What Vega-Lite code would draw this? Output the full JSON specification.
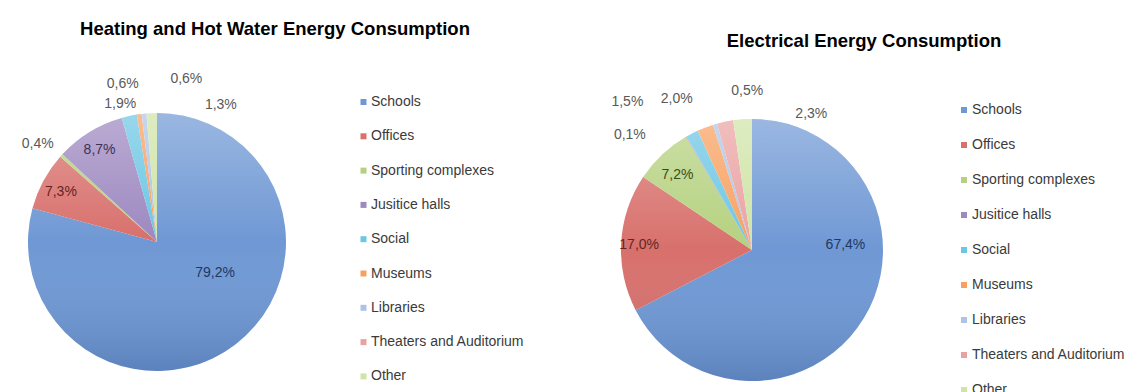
{
  "$schema": "https://vega.github.io/schema/vega-lite/v6.json",
  "background": "white",
  "padding": {"left": 0, "top": 19, "right": 0, "bottom": 0},
  "bounds": "flush",
  "spacing": 307,
  "config": {"view": {"stroke": null}, "text": {"font": "Liberation Sans", "fontSize": 14}},
  "resolve": {"scale": {"color": "independent", "theta": "independent"}, "legend": {"color": "independent"}},
  "datasets": {
    "heat": [
      {"category": "Schools", "share": 79.2, "label": "79,2%", "rank": 1},
      {"category": "Offices", "share": 7.3, "label": "7,3%", "rank": 2},
      {"category": "Sporting complexes", "share": 0.4, "label": "0,4%", "rank": 3},
      {"category": "Jusitice halls", "share": 8.7, "label": "8,7%", "rank": 4},
      {"category": "Social", "share": 1.9, "label": "1,9%", "rank": 5},
      {"category": "Museums", "share": 0.6, "label": "0,6%", "rank": 6},
      {"category": "Libraries", "share": 0.6, "label": "0,6%", "rank": 7},
      {"category": "Theaters and Auditorium", "share": 0, "label": "", "rank": 8},
      {"category": "Other", "share": 1.3, "label": "1,3%", "rank": 9}
    ],
    "elec": [
      {"category": "Schools", "share": 67.4, "label": "67,4%", "rank": 1},
      {"category": "Offices", "share": 17.0, "label": "17,0%", "rank": 2},
      {"category": "Sporting complexes", "share": 7.2, "label": "7,2%", "rank": 3},
      {"category": "Jusitice halls", "share": 0.1, "label": "0,1%", "rank": 4},
      {"category": "Social", "share": 1.5, "label": "1,5%", "rank": 5},
      {"category": "Museums", "share": 2.0, "label": "2,0%", "rank": 6},
      {"category": "Libraries", "share": 0.5, "label": "0,5%", "rank": 7},
      {"category": "Theaters and Auditorium", "share": 2.0, "label": "", "rank": 8},
      {"category": "Other", "share": 2.3, "label": "2,3%", "rank": 9}
    ]
  },
  "hconcat": [
    {
      "width": 314,
      "height": 268,
      "data": {"name": "heat"},
      "title": {"text": "Heating and Hot Water Energy Consumption", "font": "Liberation Sans", "fontSize": 18.5, "fontWeight": "bold", "color": "#000000", "anchor": "middle", "frame": "group", "dx": 118, "offset": 33},
      "layer": [
        {
          "mark": {"type": "arc", "outerRadius": 129},
          "encoding": {
            "theta": {"field": "share", "type": "quantitative", "stack": true},
            "order": {"field": "rank", "type": "quantitative"},
            "detail": {"field": "category"},
            "color": {
              "field": "category", "type": "nominal",
              "scale": {
                "domain": ["Schools", "Offices", "Sporting complexes", "Jusitice halls", "Social", "Museums", "Libraries", "Theaters and Auditorium", "Other"],
                "range": ["#6f98d4", "#d8706c", "#b5d17f", "#9d88c0", "#6cc6e4", "#f8a060", "#adc4e6", "#eaa2a1", "#cfe4a6"]
              },
              "legend": {"orient": "none", "legendX": 356.5, "legendY": -13, "title": null, "symbolType": "square", "symbolSize": 36, "symbolStrokeWidth": 0, "labelFont": "Liberation Sans", "labelFontSize": 14, "labelColor": "#3a3a3a", "rowPadding": 20.3, "labelOffset": 0.5, "padding": 0, "labelLimit": 300}
            }
          }
        },
        {
          "mark": {"type": "arc", "outerRadius": 129, "fill": {"gradient": "linear", "x1": 0, "y1": 0, "x2": 0, "y2": 1, "stops": [{"offset": 0, "color": "rgba(255,255,255,0.3)"}, {"offset": 0.5, "color": "rgba(255,255,255,0)"}, {"offset": 1, "color": "rgba(0,30,80,0.18)"}]}},
          "encoding": {"theta": {"aggregate": "sum", "field": "share", "type": "quantitative"}}
        },
        {"mark": {"type": "text", "radius": 66, "dx": 18, "dy": -21, "color": "#1f3864"}, "encoding": {"theta": {"field": "share", "type": "quantitative", "stack": true}, "order": {"field": "rank", "type": "quantitative"}, "detail": {"field": "category"}, "text": {"condition": {"test": "datum.category === 'Schools'", "field": "label"}, "value": ""}}},
        {"mark": {"type": "text", "radius": 108, "dx": -1, "dy": 1, "color": "#632523"}, "encoding": {"theta": {"field": "share", "type": "quantitative", "stack": true}, "order": {"field": "rank", "type": "quantitative"}, "detail": {"field": "category"}, "text": {"condition": {"test": "datum.category === 'Offices'", "field": "label"}, "value": ""}}},
        {"mark": {"type": "text", "radius": 154, "dx": -5, "dy": 5, "color": "#595959"}, "encoding": {"theta": {"field": "share", "type": "quantitative", "stack": true}, "order": {"field": "rank", "type": "quantitative"}, "detail": {"field": "category"}, "text": {"condition": {"test": "datum.category === 'Sporting complexes'", "field": "label"}, "value": ""}}},
        {"mark": {"type": "text", "radius": 108, "dx": -1, "dy": 0, "color": "#3f3151"}, "encoding": {"theta": {"field": "share", "type": "quantitative", "stack": true}, "order": {"field": "rank", "type": "quantitative"}, "detail": {"field": "category"}, "text": {"condition": {"test": "datum.category === 'Jusitice halls'", "field": "label"}, "value": ""}}},
        {"mark": {"type": "text", "radius": 143, "dx": -6, "dy": 2, "color": "#595959"}, "encoding": {"theta": {"field": "share", "type": "quantitative", "stack": true}, "order": {"field": "rank", "type": "quantitative"}, "detail": {"field": "category"}, "text": {"condition": {"test": "datum.category === 'Social'", "field": "label"}, "value": ""}}},
        {"mark": {"type": "text", "radius": 162, "dx": -12, "dy": 2, "color": "#595959"}, "encoding": {"theta": {"field": "share", "type": "quantitative", "stack": true}, "order": {"field": "rank", "type": "quantitative"}, "detail": {"field": "category"}, "text": {"condition": {"test": "datum.category === 'Museums'", "field": "label"}, "value": ""}}},
        {"mark": {"type": "text", "radius": 166, "dx": 46, "dy": 2, "color": "#595959"}, "encoding": {"theta": {"field": "share", "type": "quantitative", "stack": true}, "order": {"field": "rank", "type": "quantitative"}, "detail": {"field": "category"}, "text": {"condition": {"test": "datum.category === 'Libraries'", "field": "label"}, "value": ""}}},
        {"mark": {"type": "text", "radius": 151, "dx": 70, "dy": 14, "color": "#595959"}, "encoding": {"theta": {"field": "share", "type": "quantitative", "stack": true}, "order": {"field": "rank", "type": "quantitative"}, "detail": {"field": "category"}, "text": {"condition": {"test": "datum.category === 'Other'", "field": "label"}, "value": ""}}}
      ]
    },
    {
      "width": 262,
      "height": 284,
      "data": {"name": "elec"},
      "title": {"text": "Electrical Energy Consumption", "font": "Liberation Sans", "fontSize": 18.5, "fontWeight": "bold", "color": "#000000", "anchor": "middle", "frame": "group", "dx": 112, "offset": 24},
      "layer": [
        {
          "mark": {"type": "arc", "outerRadius": 131},
          "encoding": {
            "theta": {"field": "share", "type": "quantitative", "stack": true},
            "order": {"field": "rank", "type": "quantitative"},
            "detail": {"field": "category"},
            "color": {
              "field": "category", "type": "nominal",
              "scale": {
                "domain": ["Schools", "Offices", "Sporting complexes", "Jusitice halls", "Social", "Museums", "Libraries", "Theaters and Auditorium", "Other"],
                "range": ["#6f98d4", "#d8706c", "#b5d17f", "#9d88c0", "#6cc6e4", "#f8a060", "#adc4e6", "#eaa2a1", "#cfe4a6"]
              },
              "legend": {"orient": "none", "legendX": 336, "legendY": -5, "title": null, "symbolType": "square", "symbolSize": 36, "symbolStrokeWidth": 0, "labelFont": "Liberation Sans", "labelFontSize": 14, "labelColor": "#3a3a3a", "rowPadding": 21, "labelOffset": 1, "padding": 0, "labelLimit": 300}
            }
          }
        },
        {
          "mark": {"type": "arc", "outerRadius": 131, "fill": {"gradient": "linear", "x1": 0, "y1": 0, "x2": 0, "y2": 1, "stops": [{"offset": 0, "color": "rgba(255,255,255,0.3)"}, {"offset": 0.5, "color": "rgba(255,255,255,0)"}, {"offset": 1, "color": "rgba(0,30,80,0.18)"}]}},
          "encoding": {"theta": {"aggregate": "sum", "field": "share", "type": "quantitative"}}
        },
        {"mark": {"type": "text", "radius": 93, "dx": 14, "dy": -53, "color": "#1f3864"}, "encoding": {"theta": {"field": "share", "type": "quantitative", "stack": true}, "order": {"field": "rank", "type": "quantitative"}, "detail": {"field": "category"}, "text": {"condition": {"test": "datum.category === 'Schools'", "field": "label"}, "value": ""}}},
        {"mark": {"type": "text", "radius": 113, "dx": 0, "dy": 1, "color": "#632523"}, "encoding": {"theta": {"field": "share", "type": "quantitative", "stack": true}, "order": {"field": "rank", "type": "quantitative"}, "detail": {"field": "category"}, "text": {"condition": {"test": "datum.category === 'Offices'", "field": "label"}, "value": ""}}},
        {"mark": {"type": "text", "radius": 106, "dx": -2, "dy": 2, "color": "#3a4d17"}, "encoding": {"theta": {"field": "share", "type": "quantitative", "stack": true}, "order": {"field": "rank", "type": "quantitative"}, "detail": {"field": "category"}, "text": {"condition": {"test": "datum.category === 'Sporting complexes'", "field": "label"}, "value": ""}}},
        {"mark": {"type": "text", "radius": 168, "dx": -38, "dy": 30, "color": "#595959"}, "encoding": {"theta": {"field": "share", "type": "quantitative", "stack": true}, "order": {"field": "rank", "type": "quantitative"}, "detail": {"field": "category"}, "text": {"condition": {"test": "datum.category === 'Jusitice halls'", "field": "label"}, "value": ""}}},
        {"mark": {"type": "text", "radius": 194, "dx": -36, "dy": 25, "color": "#595959"}, "encoding": {"theta": {"field": "share", "type": "quantitative", "stack": true}, "order": {"field": "rank", "type": "quantitative"}, "detail": {"field": "category"}, "text": {"condition": {"test": "datum.category === 'Social'", "field": "label"}, "value": ""}}},
        {"mark": {"type": "text", "radius": 169, "dx": -15, "dy": 7, "color": "#595959"}, "encoding": {"theta": {"field": "share", "type": "quantitative", "stack": true}, "order": {"field": "rank", "type": "quantitative"}, "detail": {"field": "category"}, "text": {"condition": {"test": "datum.category === 'Museums'", "field": "label"}, "value": ""}}},
        {"mark": {"type": "text", "radius": 159, "dx": 40, "dy": -6, "color": "#595959"}, "encoding": {"theta": {"field": "share", "type": "quantitative", "stack": true}, "order": {"field": "rank", "type": "quantitative"}, "detail": {"field": "category"}, "text": {"condition": {"test": "datum.category === 'Libraries'", "field": "label"}, "value": ""}}},
        {"mark": {"type": "text", "radius": 148, "dx": 70, "dy": 12, "color": "#595959"}, "encoding": {"theta": {"field": "share", "type": "quantitative", "stack": true}, "order": {"field": "rank", "type": "quantitative"}, "detail": {"field": "category"}, "text": {"condition": {"test": "datum.category === 'Other'", "field": "label"}, "value": ""}}}
      ]
    }
  ]
}
